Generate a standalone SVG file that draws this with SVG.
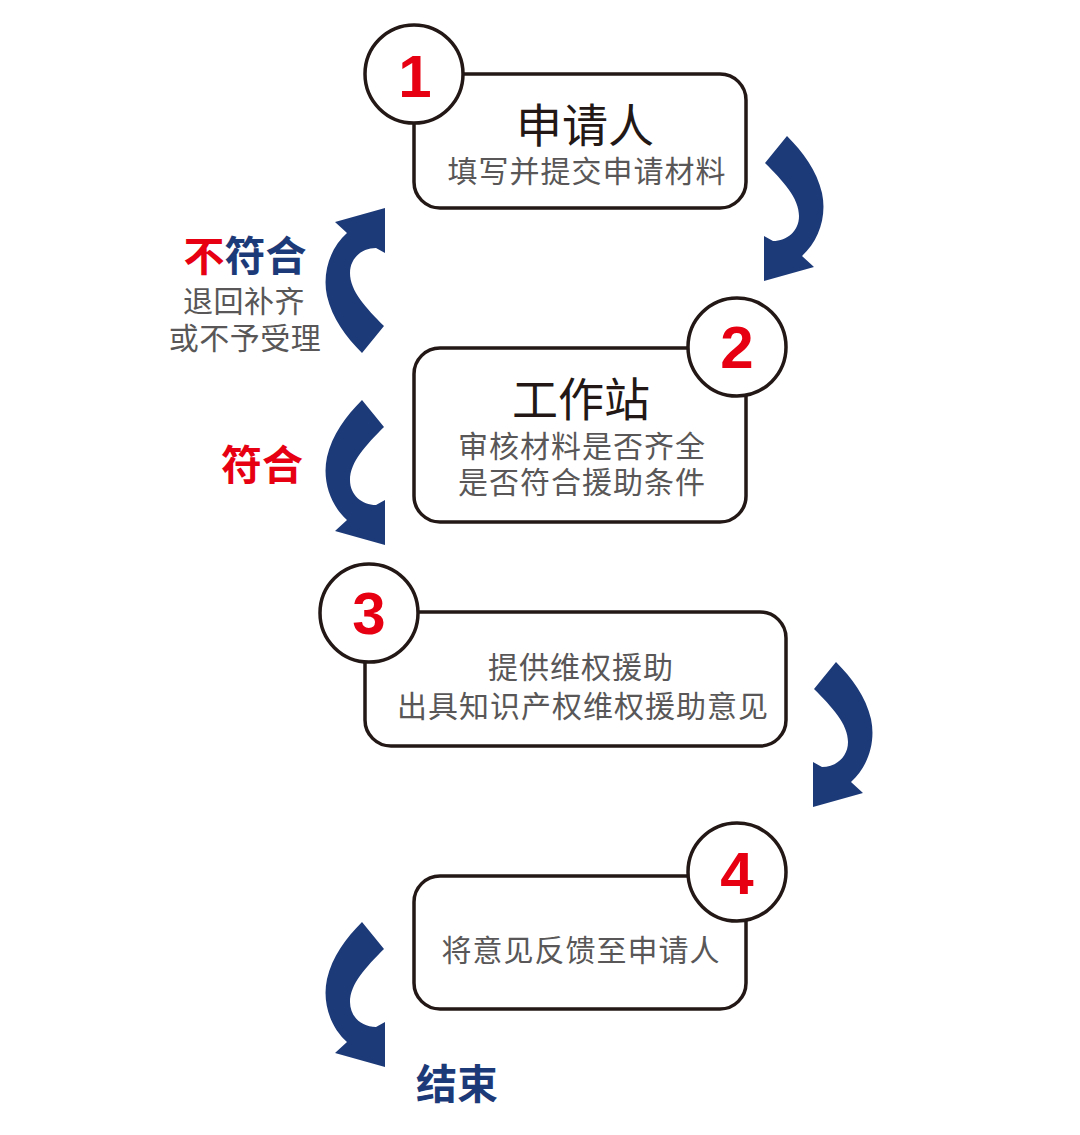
<svg xmlns="http://www.w3.org/2000/svg" xmlns:xlink="http://www.w3.org/1999/xlink" width="1080" height="1135" viewBox="0 0 1080 1135">
<style>
.box{fill:#fff;stroke:#231815;stroke-width:3.5}
.circ{fill:#fff;stroke:#231815;stroke-width:3.5}
.num{font-family:"Liberation Sans",Arial,sans-serif;font-weight:bold;font-size:60px;fill:#e60012;text-anchor:middle}
.title{font-family:"Noto Sans CJK SC",sans-serif;font-size:46px;fill:#231815;text-anchor:middle}
.sub{font-family:"Noto Sans CJK SC",sans-serif;font-size:30px;letter-spacing:1px;fill:#595757;text-anchor:middle}
.lbl{font-family:"Noto Sans CJK SC",sans-serif;font-size:30px;letter-spacing:0.5px;fill:#595757;text-anchor:middle}
.big{font-family:"Noto Sans CJK SC",sans-serif;font-weight:bold;font-size:41px;text-anchor:middle}
.red{fill:#e60012}
.navy{fill:#1d3a78}
.arrow{fill:#1d3a78}
</style>
<defs>
<path id="carrow" class="arrow" d="M 362 400 L 384 427 C 366 445 350 462 350 480 C 350 495 362 505 376 505 L 385 500 L 385 545 L 335 531 L 347 520 C 330 505 322 480 327 457 C 332 435 346 416 362 400 Z"/>
</defs>
<g id="connectors">
<use xlink:href="#carrow" transform="translate(1149,-264) scale(-1,1)"/>
<use xlink:href="#carrow" transform="translate(0,753) scale(1,-1)"/>
<use xlink:href="#carrow"/>
<use xlink:href="#carrow" transform="translate(1198,262) scale(-1,1)"/>
<use xlink:href="#carrow" transform="translate(0,522)"/>
</g>
<g id="node1">
<rect class="box" x="414" y="74" width="332" height="134" rx="26"/>
<circle class="circ" cx="414" cy="74" r="49"/>
<text class="num" x="415" y="97">1</text>
<text class="title" x="585" y="142">申请人</text>
<text class="sub" x="587" y="182">填写并提交申请材料</text>
</g>
<g id="node2">
<rect class="box" x="414" y="348" width="332" height="174" rx="26"/>
<circle class="circ" cx="737" cy="347" r="49"/>
<text class="num" x="737" y="368">2</text>
<text class="title" x="581" y="416">工作站</text>
<text class="sub" x="582" y="457">审核材料是否齐全</text>
<text class="sub" x="582" y="493">是否符合援助条件</text>
</g>
<g id="node3">
<rect class="box" x="365" y="612" width="421" height="134" rx="26"/>
<circle class="circ" cx="369" cy="613" r="49"/>
<text class="num" x="369" y="634">3</text>
<text class="sub" x="581" y="678">提供维权援助</text>
<text class="sub" x="583" y="717">出具知识产权维权援助意见</text>
</g>
<g id="node4">
<rect class="box" x="414" y="876" width="332" height="133" rx="26"/>
<circle class="circ" cx="737" cy="872" r="49"/>
<text class="num" x="737" y="894">4</text>
<text class="sub" x="581" y="961">将意见反馈至申请人</text>
</g>
<g id="label-reject">
<text class="big" x="245" y="271"><tspan class="red">不</tspan><tspan class="navy">符合</tspan></text>
<text class="lbl" x="244" y="312">退回补齐</text>
<text class="lbl" x="245" y="349">或不予受理</text>
</g>
<g id="label-accept">
<text class="big red" x="262" y="480">符合</text>
</g>
<g id="end">
<text class="big navy" x="457" y="1099">结束</text>
</g>
</svg>
